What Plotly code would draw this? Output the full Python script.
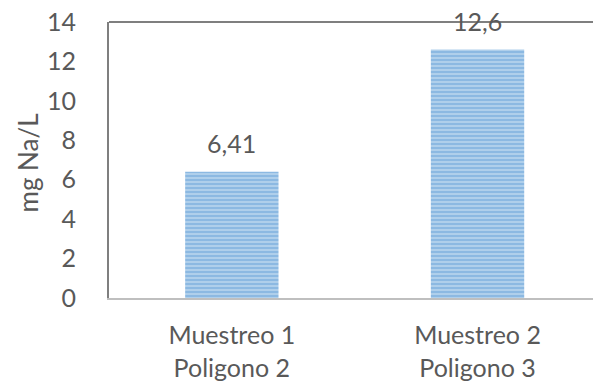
import plotly.graph_objects as go

# Sodium concentration per sampling campaign
categorias = ["Muestreo 1<br>Poligono 2", "Muestreo 2<br>Poligono 3"]
valores = [6.41, 12.6]
etiquetas = ["6,41", "12,6"]
y_ticks = [0, 2, 4, 6, 8, 10, 12, 14]

FONT = "Lato, Calibri, Carlito, sans-serif"
TXT = "#595959"

fig = go.Figure()
fig.add_trace(go.Bar(
    x=categorias,
    y=valores,
    width=0.38,
    marker=dict(
        color="#bdd7ee",
        line=dict(width=0),
        pattern=dict(shape="-", fgcolor="#5b9bd5", bgcolor="#bdd7ee",
                     size=4, solidity=0.65, fillmode="overlay"),
    ),
    hoverinfo="skip",
))

for cat, val, txt in zip(categorias, valores, etiquetas):
    fig.add_annotation(x=cat, y=val, text=txt, showarrow=False,
                       yanchor="bottom", yshift=12,
                       font=dict(family=FONT, size=25, color=TXT))

# vertical axis title placed left of the tick labels
fig.add_annotation(xref="paper", yref="paper", x=-0.168, y=0.49,
                   text="mg Na/L", textangle=-90, showarrow=False,
                   xanchor="center", yanchor="middle",
                   font=dict(family=FONT, size=26, color=TXT))

# top frame line of the plot area
fig.add_shape(type="line", xref="paper", yref="paper",
              x0=0, x1=1, y0=1, y1=1,
              line=dict(color="#7f7f7f", width=2))

fig.update_layout(
    width=593, height=385,
    margin=dict(l=109, r=0, t=22, b=87),
    paper_bgcolor="white", plot_bgcolor="white",
    showlegend=False,
    font=dict(family=FONT, size=25, color=TXT),
    xaxis=dict(
        type="category",
        range=[-0.5, 1.47],
        showline=True, linecolor="#bfbfbf", linewidth=2,
        showgrid=False, ticks="", ticklabelstandoff=14,
        tickfont=dict(family=FONT, size=25, color=TXT),
    ),
    yaxis=dict(
        range=[0, 14],
        tickvals=y_ticks,
        showline=True, linecolor="#7f7f7f", linewidth=2,
        showgrid=False, ticks="", ticklabelstandoff=26,
        zeroline=False,
        tickfont=dict(family=FONT, size=25, color=TXT),
    ),
)

fig.write_html("out.html")
